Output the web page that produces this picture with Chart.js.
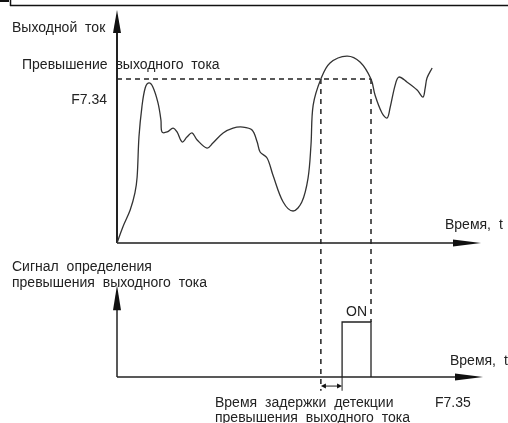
<!DOCTYPE html>
<html>
<head>
<meta charset="utf-8">
<script src="https://cdn.jsdelivr.net/npm/chart.js@4.4.1/dist/chart.umd.min.js"></script>
<style>
    html, body { margin: 0; padding: 0; background: #fff; }
    canvas { display: block; }
</style>
</head>
<body>
<canvas id="chart" width="508" height="423"></canvas>
<script>
// время (усл. ед.) и выходной ток (% от уровня F7.34)
var timePoints = [0, 1.6, 3.6, 4.9, 5.5, 6.0, 6.8, 7.7, 8.7, 9.8,
    11.2, 12.0, 12.3, 13.7, 15.3, 16.4, 17.8, 19.1, 20.5, 21.9,
    24.6, 26.2, 29.0, 31.7, 34.4, 36.9, 38.3, 39.1, 41.0, 42.6,
    45.4, 48.1, 50.5, 52.2, 53.0, 53.6, 55.7, 58.2, 62.8, 66.4,
    69.4, 70.5, 72.4, 73.8, 74.6, 76.0, 77.0, 79.2, 82.0, 83.6,
    84.2, 84.7, 86.1];
var currentValues = [0, 9.8, 20.1, 30.5, 40.2, 64.6, 82.9, 94.5, 97.6, 95.1,
    85.4, 75.0, 67.7, 67.7, 70.1, 67.7, 61.6, 64.6, 67.1, 62.8,
    57.9, 61.0, 67.1, 70.1, 70.7, 68.9, 61.6, 55.5, 51.8, 41.5,
    25.0, 19.5, 25.0, 39.6, 59.8, 84.1, 100, 109.8, 114.0, 110.4,
    100, 90.2, 79.3, 76.2, 82.3, 96.3, 101.2, 98.2, 93.3, 89.0,
    94.5, 100.6, 106.7];
var threshold = 100;

// моменты пересечения порога и сигнал ON
var crossTimes = [55.7, 69.4];
var signalTime = [61.5, 61.5, 69.4, 69.4];
var signalValues = [0, 1, 1, 0];

var tickLabels = ['F7.34', 'F7.35'];

// пиксели -> диапазоны шкал (область графика 10..423 по вертикали)
var areaTop = 10, areaBottom = 423;
function rangeFor(zeroPx, unitPx) {
    var max = (zeroPx - areaTop) / unitPx;
    return { min: max - (areaBottom - areaTop) / unitPx, max: max };
}
var curRange = rangeFor(243, 1.64);
var sigRange = rangeFor(377, 55);

function arrowHead(c, x, y, dir, len, half) {
    c.beginPath();
    c.moveTo(x, y);
    if (dir === 'up') {
        c.lineTo(x - half, y + len);
        c.lineTo(x + half, y + len);
    } else if (dir === 'right') {
        c.lineTo(x - len, y - half);
        c.lineTo(x - len, y + half);
    } else {
        c.lineTo(x + len, y - half);
        c.lineTo(x + len, y + half);
    }
    c.closePath();
    c.fill();
}

function line(c, x1, y1, x2, y2) {
    c.beginPath();
    c.moveTo(x1, y1);
    c.lineTo(x2, y2);
    c.stroke();
}

var diagramPlugin = {
    id: 'diagram',
    beforeDatasetsDraw: function(chart) {
        var c = chart.ctx;
        var x = chart.scales.x, yc = chart.scales.yCur, ys = chart.scales.ySig;
        var x0 = x.getPixelForValue(0);
        var xEnd = x.getPixelForValue(100);
        var yc0 = yc.getPixelForValue(0);
        var ys0 = ys.getPixelForValue(0);
        c.save();

        // рамка сверху (обрезанная таблица)
        c.strokeStyle = '#111';
        c.lineWidth = 1.5;
        line(c, 10, 5.5, 508, 5.5);
        line(c, 10.5, 0, 10.5, 6);
        c.fillStyle = '#111';
        c.fillRect(0, 0, 9, 2);

        // верхние оси
        c.strokeStyle = '#222';
        c.fillStyle = '#111';
        c.lineWidth = 2;
        line(c, x0, yc0, x0, chart.chartArea.top + 20);
        arrowHead(c, x0, chart.chartArea.top, 'up', 23, 4);
        c.strokeStyle = '#555';
        line(c, x0, yc0, xEnd - 20, yc0);
        arrowHead(c, xEnd - 2, yc0, 'right', 28, 3.5);

        // нижние оси
        c.strokeStyle = '#222';
        c.lineWidth = 1.5;
        var sigTop = ys.getPixelForValue(1.67);
        line(c, x0, ys0, x0, sigTop + 20);
        arrowHead(c, x0, sigTop, 'up', 25, 4);
        line(c, x0, ys0, xEnd - 20, ys0);
        arrowHead(c, xEnd, ys0, 'right', 28, 3.5);

        // вертикальные пунктиры от точек пересечения порога
        var yThr = yc.getPixelForValue(threshold);
        var xa = x.getPixelForValue(crossTimes[0]);
        var xb = x.getPixelForValue(crossTimes[1]);
        c.strokeStyle = '#222';
        c.lineWidth = 1.5;
        c.setLineDash([5, 5]);
        line(c, xa, yThr, xa, ys.getPixelForValue(-0.25));
        line(c, xb, yThr, xb, ys.getPixelForValue(1));
        c.setLineDash([]);

        // задержка детекции
        var xOn = x.getPixelForValue(signalTime[0]);
        var yDel = ys.getPixelForValue(-0.165);
        c.lineWidth = 1;
        line(c, xOn, ys0, xOn, ys.getPixelForValue(-0.25));
        line(c, xa + 3, yDel, xOn - 3, yDel);
        c.fillStyle = '#111';
        arrowHead(c, xa, yDel, 'left', 5, 2.5);
        arrowHead(c, xOn, yDel, 'right', 5, 2.5);
        c.restore();
    },
    afterDraw: function(chart) {
        var c = chart.ctx;
        var x = chart.scales.x, ys = chart.scales.ySig;
        c.save();
        c.fillStyle = '#222';
        c.font = '14px "Liberation Sans", Arial, sans-serif';
        c.textBaseline = 'alphabetic';
        c.wordSpacing = '4px';
        c.textAlign = 'left';
        c.fillText('Выходной ток', 12, 32);
        c.fillText('Превышение выходного тока', 22, 69);
        c.fillText('Время, t', 445, 229);
        c.fillText('Сигнал определения', 12, 271);
        c.fillText('превышения выходного тока', 12, 287);
        c.fillText('Время, t', 450, 365);
        c.fillText('Время задержки детекции', 215, 407);
        c.fillText('превышения выходного тока', 215, 422);
        c.fillText(tickLabels[1], 435, 407);
        c.textAlign = 'right';
        c.fillText(tickLabels[0], 107, 104);
        c.textAlign = 'center';
        var xMid = (x.getPixelForValue(signalTime[1]) + x.getPixelForValue(signalTime[2])) / 2;
        c.fillText('ON', xMid, ys.getPixelForValue(1) - 6);
        c.restore();
    }
};

var ctx = document.getElementById('chart').getContext('2d');
var chart = new Chart(ctx, {
    type: 'line',
    data: {
        datasets: [
            {
                data: timePoints.map(function(t, i) { return { x: t, y: currentValues[i] }; }),
                yAxisID: 'yCur',
                borderColor: '#333',
                borderWidth: 1.3,
                pointRadius: 0,
                tension: 0.35,
                fill: false,
                clip: false
            },
            {
                data: [{ x: 0, y: threshold }, { x: crossTimes[1], y: threshold }],
                yAxisID: 'yCur',
                borderColor: '#222',
                borderWidth: 1.5,
                borderDash: [5, 4],
                pointRadius: 0,
                fill: false
            },
            {
                data: signalTime.map(function(t, i) { return { x: t, y: signalValues[i] }; }),
                yAxisID: 'ySig',
                borderColor: '#222',
                borderWidth: 1.3,
                pointRadius: 0,
                tension: 0,
                fill: false
            }
        ]
    },
    options: {
        responsive: false,
        animation: false,
        devicePixelRatio: 1,
        layout: { padding: { left: 117, right: 25, top: areaTop, bottom: 0 } },
        plugins: { legend: { display: false }, tooltip: { enabled: false } },
        scales: {
            x: { type: 'linear', min: 0, max: 100, display: false },
            yCur: { type: 'linear', min: curRange.min, max: curRange.max, display: false },
            ySig: { type: 'linear', min: sigRange.min, max: sigRange.max, display: false }
        }
    },
    plugins: [diagramPlugin]
});
</script>
</body>
</html>
